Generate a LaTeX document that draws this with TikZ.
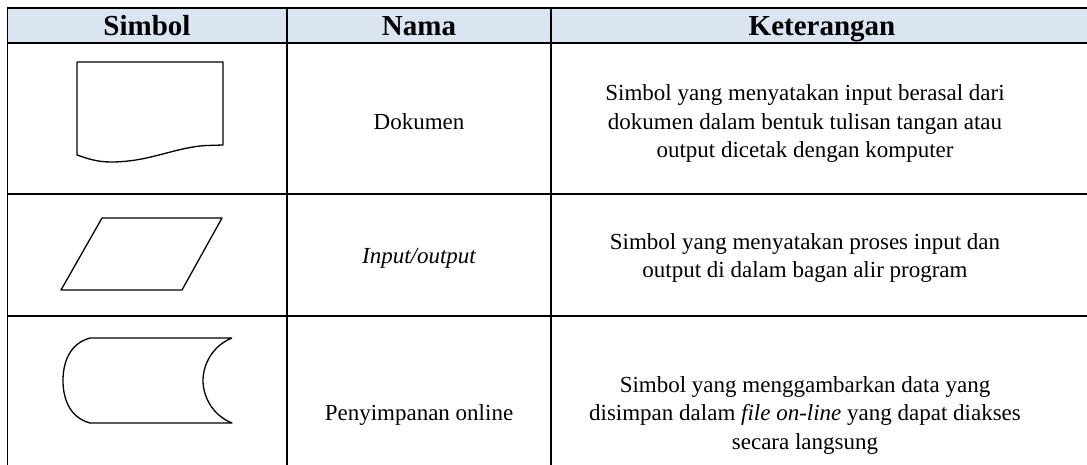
\documentclass[tikz,border=0pt]{standalone}
\usepackage{fontspec}
\setmainfont{Liberation Serif}
\definecolor{hdr}{HTML}{DBE5F1}
\begin{document}
\begin{tikzpicture}[x=1pt,y=-1pt,
  grid/.style={line width=1.8pt, line cap=rect},
  sym/.style={line width=1.3pt, line join=round},
  hd/.style={font=\fontsize{29}{32}\selectfont\bfseries, anchor=base, inner sep=0pt},
  bd/.style={font=\fontsize{23}{28.5}\selectfont, align=center, anchor=center, inner sep=0pt}]
\useasboundingbox (0,0) rectangle (1087,465);
% header fill
\fill[hdr] (7.5,8) rectangle (1090,43);
% horizontal lines
\draw[grid] (7.5,8) -- (1090,8);
\draw[grid] (7.5,43) -- (1090,43);
\draw[grid] (7.5,194) -- (1090,194);
\draw[grid] (7.5,316) -- (1090,316);
% vertical lines
\draw[grid] (7.5,8) -- (7.5,470);
\draw[grid] (287,8) -- (287,470);
\draw[grid] (551,8) -- (551,470);
% header texts
\node[hd] (h1) at (147,36) {Simbol};
\node[hd] (h2) at (419,36) {Nama};
\node[hd] (h3) at (822,36) {Keterangan};
% row 1
\draw[sym] (77,62) -- (223,62) -- (223,145) -- (207,145.5)
  .. controls (175,147) and (150,162) .. (111,162)
  .. controls (96,162) and (86,158) .. (77,155) -- cycle;
\node[bd] (n1) at (419,122) {Dokumen};
\node[bd] (k1) at (805,124) {Simbol yang menyatakan input berasal dari\\dokumen dalam bentuk tulisan tangan atau\\output dicetak dengan komputer};
% row 2
\draw[sym] (102,218) -- (222,218) -- (182,290) -- (61,290) -- cycle;
\node[bd] (n2) at (419,258) {\itshape Input/output};
\node[bd] (k2) at (805,258) {Simbol yang menyatakan proses input dan\\output di dalam bagan alir program};
% row 3
\draw[sym] (232,338) -- (90,338)
  .. controls (68,344) and (63,365) .. (63,380.5)
  .. controls (63,396) and (68,417) .. (90,423) -- (232,423)
  .. controls (212,415) and (203,396) .. (203,380.5)
  .. controls (203,365) and (212,346) .. (232,338);
\node[bd] (n3) at (419,415) {Penyimpanan online};
\node[bd] (k3) at (805,415) {Simbol yang menggambarkan data yang\\disimpan dalam \textit{file on-line} yang dapat diakses\\secara langsung};
\end{tikzpicture}
\end{document}
